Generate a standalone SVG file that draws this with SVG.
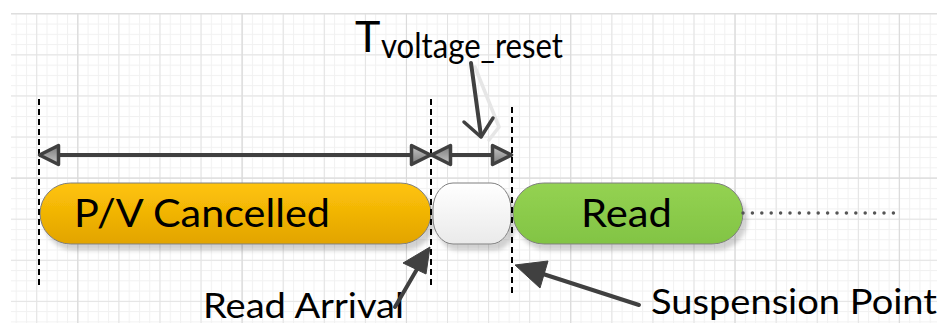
<svg xmlns="http://www.w3.org/2000/svg" width="940" height="330" viewBox="0 0 940 330">
  <style>
    .lbl { font-family: Lato, "Open Sans", "Liberation Sans", sans-serif; fill: #000; }
    .dash { stroke: #000; stroke-width: 2; stroke-dasharray: 6 4; fill: none; }
    .dim { stroke: #404040; stroke-width: 4; fill: none; marker-start: url(#dimHead); marker-end: url(#dimHead); }
    .call { stroke: #404040; stroke-width: 4; fill: none; stroke-linecap: round; }
    .head { fill: #404040; stroke: #404040; stroke-width: 1; stroke-linejoin: round; }
    .pill { stroke: #7f7f7f; stroke-width: 1; filter: url(#shadow); }
  </style>
  <defs>
    <pattern id="gMinor" patternUnits="userSpaceOnUse" x="-87" y="13.3" width="10.27" height="10.27">
      <rect x="0" y="0" width="10.27" height="1" fill="#f1f1f1"/>
      <rect x="0" y="0" width="1" height="10.27" fill="#f1f1f1"/>
    </pattern>
    <pattern id="gMid" patternUnits="userSpaceOnUse" x="-87" y="13.3" width="41.08" height="41.08">
      <rect x="0" y="0" width="41.08" height="1" fill="#e3e3e3"/>
      <rect x="0" y="0" width="1" height="41.08" fill="#e3e3e3"/>
    </pattern>
    <pattern id="gMajor" patternUnits="userSpaceOnUse" x="-87" y="13.3" width="164.3" height="164.3">
      <rect x="0" y="0" width="164.3" height="1" fill="#dadada"/>
      <rect x="0" y="0" width="1" height="164.3" fill="#dadada"/>
    </pattern>
    <linearGradient id="gOrange" x1="0" y1="0" x2="0" y2="1">
      <stop offset="0" stop-color="#FFC40A"/>
      <stop offset="1" stop-color="#E2A400"/>
    </linearGradient>
    <linearGradient id="gGreen" x1="0" y1="0" x2="0" y2="1">
      <stop offset="0" stop-color="#94D252"/>
      <stop offset="1" stop-color="#82C444"/>
    </linearGradient>
    <linearGradient id="gWhite" x1="0" y1="0" x2="0" y2="1">
      <stop offset="0" stop-color="#FFFFFF"/>
      <stop offset="1" stop-color="#EAEAEA"/>
    </linearGradient>
    <linearGradient id="gHead" x1="0" y1="0" x2="0" y2="1">
      <stop offset="0" stop-color="#c8c8c8"/>
      <stop offset="1" stop-color="#7a7a7a"/>
    </linearGradient>
    <filter id="shadow" x="-10%" y="-20%" width="130%" height="160%">
      <feDropShadow dx="4" dy="6" stdDeviation="2" flood-color="#000" flood-opacity="0.18"/>
    </filter>
    <marker id="dimHead" markerUnits="userSpaceOnUse" viewBox="-26 -14 30 28" refX="0" refY="0" markerWidth="30" markerHeight="28" orient="auto-start-reverse">
      <path d="M-19.5,-9.5 L-0.5,0 L-19.5,9.5 Z" fill="url(#gHead)" stroke="#404040" stroke-width="3.5" stroke-linejoin="round"/>
    </marker>
  </defs>

  <!-- grid background -->
  <g id="grid">
    <rect x="11" y="13" width="926" height="310" fill="#fff"/>
    <rect x="11" y="13" width="926" height="310" fill="url(#gMinor)"/>
    <rect x="11" y="13" width="926" height="310" fill="url(#gMid)"/>
    <rect x="11" y="13" width="926" height="310" fill="url(#gMajor)"/>
  </g>

  <!-- nodes -->
  <g id="pv-cancelled">
    <rect class="pill" x="40" y="183" width="391" height="61" rx="30.5" ry="30.5" fill="url(#gOrange)"/>
    <text class="lbl" x="74" y="227" font-size="39" textLength="256" lengthAdjust="spacingAndGlyphs">P/V Cancelled</text>
  </g>
  <g id="voltage-reset">
    <rect class="pill" x="433" y="183" width="78" height="61" rx="20" ry="26" fill="url(#gWhite)"/>
  </g>
  <g id="read">
    <rect class="pill" x="513" y="183" width="230" height="61" rx="30.5" ry="30.5" fill="url(#gGreen)"/>
    <text class="lbl" x="581" y="227" font-size="39" textLength="91" lengthAdjust="spacingAndGlyphs">Read</text>
  </g>
  <g id="t-label">
    <text class="lbl" x="355" y="52" font-size="43">T<tspan x="381" y="58" font-size="34" textLength="182" lengthAdjust="spacingAndGlyphs">voltage_reset</tspan></text>
  </g>
  <g id="read-arrival-label">
    <text class="lbl" x="203" y="318" font-size="34" textLength="201" lengthAdjust="spacingAndGlyphs">Read Arrival</text>
  </g>
  <g id="suspension-label">
    <text class="lbl" x="651" y="314" font-size="34" textLength="286" lengthAdjust="spacingAndGlyphs">Suspension Point</text>
  </g>

  <!-- connectors -->
  <g id="connectors">
    <line class="dash" x1="39" y1="99" x2="39" y2="287"/>
    <line class="dash" x1="431" y1="99" x2="431" y2="287"/>
    <line class="dash" x1="512" y1="107" x2="512" y2="294"/>

    <line class="dim" x1="39" y1="155" x2="431" y2="155"/>
    <line class="dim" x1="431" y1="155" x2="512" y2="155"/>

    <polyline points="475,67 499,127 489,140" fill="none" stroke="#e6e6e6" stroke-width="3.5" stroke-linecap="round" stroke-linejoin="round"/>
    <line class="call" x1="471" y1="63" x2="481" y2="136" stroke-width="3.5"/>
    <polyline points="464,122 481,137 493,118" fill="none" stroke="#404040" stroke-width="3.5" stroke-linecap="round" stroke-linejoin="round"/>

    <line class="call" x1="395" y1="307" x2="420" y2="264"/>
    <polygon class="head" points="430,247 426,274 403,263"/>

    <line class="call" x1="639" y1="305" x2="540" y2="273"/>
    <polygon class="head" points="515,265 548,261 540,288"/>

    <line x1="743" y1="213" x2="894" y2="213" stroke="#555" stroke-width="3.5" stroke-linecap="round" stroke-dasharray="0 9.4"/>
  </g>
</svg>
